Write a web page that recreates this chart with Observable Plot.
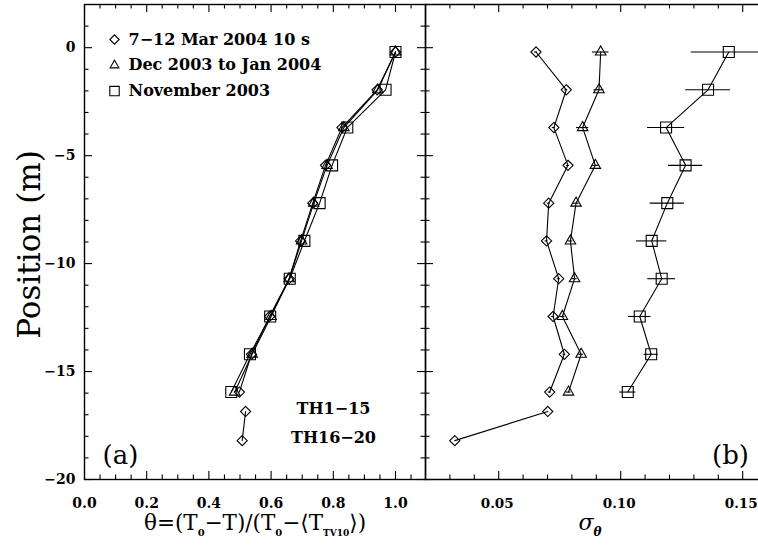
<!DOCTYPE html>
<html><head><meta charset="utf-8">
<script src="https://cdn.jsdelivr.net/npm/d3@7"></script>
<script src="https://cdn.jsdelivr.net/npm/@observablehq/plot@0.6"></script>
<style>
body{margin:0;background:#fff;}
#wrap{position:relative;width:758px;height:546px;overflow:hidden;background:#fff;}
#wrap svg{position:absolute;top:0;}
.title{position:absolute;font-family:"DejaVu Serif",serif;color:#000;white-space:nowrap;transform:translate(-50%,-50%);line-height:1;}
.title sub{font-weight:bold;}
</style></head><body><div id="wrap"></div>
<script>
// ---- data ----
const depth = [-0.2, -1.95, -3.7, -5.45, -7.2, -8.95, -10.7, -12.45, -14.2, -15.95];
const depthLower = [-16.85, -18.2];
const thetaMar = [1.0, 0.941, 0.828, 0.775, 0.734, 0.695, 0.658, 0.595, 0.537, 0.498];
const thetaMarLower = [0.518, 0.507];
const thetaDecJan = [1.0, 0.943, 0.834, 0.78, 0.737, 0.698, 0.658, 0.6, 0.539, 0.483];
const thetaNov = [1.0, 0.968, 0.845, 0.796, 0.756, 0.707, 0.66, 0.597, 0.532, 0.472];
const sigmaMar = [0.0653, 0.0777, 0.0726, 0.0784, 0.0705, 0.0696, 0.0746, 0.0723, 0.0769, 0.0709];
const sigmaMarLower = [0.0701, 0.0320];
const errMar = [0.0006, 0.0006, 0.0006, 0.0006, 0.0006, 0.0006, 0.0006, 0.0006, 0.0006, 0.0006];
const sigmaDecJan = [0.0918, 0.0911, 0.0844, 0.0896, 0.0817, 0.0794, 0.0811, 0.0761, 0.0838, 0.0786];
const errDecJan = [0.0034, 0.0020, 0.0025, 0.0015, 0.0012, 0.0010, 0.0010, 0.0010, 0.0010, 0.0010];
const sigmaNov = [0.1443, 0.1358, 0.1186, 0.1266, 0.1191, 0.1127, 0.1168, 0.1078, 0.1125, 0.1029];
const errNov = [0.0154, 0.0092, 0.0076, 0.0070, 0.0070, 0.0062, 0.0057, 0.0046, 0.0029, 0.0033];

const legendLabels = ["7\u221212 Mar 2004 10 s", "Dec 2003 to Jan 2004", "November 2003"];
const legendSymbols = ["diamond2", "triangle2", "square2"];
const groupLabels = ["TH1\u221215", "TH16\u221220"];
const panelLabels = ["(a)", "(b)"];

const yMajor = [0, -5, -10, -15, -20];
const yMinor = [1, -1, -2, -3, -4, -6, -7, -8, -9, -11, -12, -13, -14, -16, -17, -18, -19];
const leftXMajor = [0.0, 0.2, 0.4, 0.6, 0.8, 1.0];
const leftXMinor = [0.05, 0.1, 0.15, 0.25, 0.3, 0.35, 0.45, 0.5, 0.55, 0.65, 0.7, 0.75, 0.85, 0.9, 0.95, 1.05];
const rightXMajor = [0.05, 0.10, 0.15];
const rightXMinor = [0.03, 0.04, 0.06, 0.07, 0.08, 0.09, 0.11, 0.12, 0.13, 0.14];

// ---- tables ----
const rowsOf = (ys, xs, es) => ys.map((d, i) => ({y: d, x: xs[i], e: es ? es[i] : 0}));
const L = {
  mar: rowsOf(depth, thetaMar), marLow: rowsOf(depthLower, thetaMarLower),
  dec: rowsOf(depth, thetaDecJan), nov: rowsOf(depth, thetaNov)
};
const R = {
  mar: rowsOf(depth, sigmaMar, errMar), marLow: rowsOf(depthLower, sigmaMarLower),
  dec: rowsOf(depth, sigmaDecJan, errDecJan), nov: rowsOf(depth, sigmaNov, errNov)
};

// ---- geometry ----
const PH = 546, mTop = 4, mBottom = 479, frameL = 84, divider = 425, PW = 758;
const innerH = mBottom - mTop;
const leftW = divider + 1, leftInnerW = divider - frameL;
const rightW = PW - divider, rightInnerW = rightW;
const MAJ = 8, MIN = 4.5;
const svgStyle = {background: "none", overflow: "visible", fontFamily: "DejaVu Serif", fontSize: "14px", color: "black"};
const ink = {stroke: "black", strokeWidth: 1.1};

function seriesMarks(T, withErr) {
  const m = [];
  const opts = {x: "x", y: "y", ...ink};
  for (const k of ["mar", "marLow", "dec", "nov"]) {
    m.push(Plot.line(T[k], {...opts}));
  }
  if (withErr) {
    for (const k of ["mar", "dec", "nov"]) {
      m.push(Plot.ruleY(T[k], {y: "y", x1: d => d.x - d.e, x2: d => d.x + d.e, ...ink, clip: true}));
    }
  }
  m.push(Plot.dot(T.mar, {...opts, symbol: "diamond2", r: 4.6, fill: "none"}));
  m.push(Plot.dot(T.marLow, {...opts, symbol: "diamond2", r: 4.6, fill: "none"}));
  m.push(Plot.dot(T.dec, {...opts, symbol: "triangle2", r: 5.0, fill: "none"}));
  m.push(Plot.dot(T.nov, {...opts, symbol: "square2", r: 7.0, fill: "none"}));
  return m;
}

function tickMarks(xMaj, xMin, iw, leftTicks, rightTicks) {
  const m = [];
  for (const [vals, len] of [[xMaj, MAJ], [xMin, MIN]]) {
    m.push(Plot.tickX(vals, {x: d => d, insetTop: innerH - len, ...ink}));
    m.push(Plot.tickX(vals, {x: d => d, insetBottom: innerH - len, ...ink}));
  }
  for (const [vals, len] of [[yMajor, MAJ], [yMinor, MIN]]) {
    if (leftTicks) m.push(Plot.tickY(vals, {y: d => d, insetRight: iw - len, ...ink}));
    if (rightTicks) m.push(Plot.tickY(vals, {y: d => d, insetLeft: iw - len, ...ink}));
  }
  return m;
}

const wrap = document.getElementById("wrap");

// ---- left panel ----
const left = Plot.plot({
  width: leftW, height: PH,
  marginLeft: frameL, marginRight: leftW - divider, marginTop: mTop, marginBottom: PH - mBottom,
  style: svgStyle,
  x: {domain: [0, leftInnerW / 311], label: null},
  y: {domain: [-20, 2], label: null},
  marks: [
    Plot.axisX(leftXMajor, {anchor: "bottom", tickSize: 0, tickPadding: 19, tickFormat: d => d.toFixed(1), fontWeight: "bold", fontSize: 14, label: null}),
    Plot.axisY(yMajor, {anchor: "left", tickSize: 0, tickPadding: 9, fontWeight: "bold", fontSize: 14, label: null}),
    ...tickMarks(leftXMajor, leftXMinor, leftInnerW, true, true),
    ...seriesMarks(L, false),
    ...legendLabels.map((t, i) => Plot.dot([t], {frameAnchor: "top-left", dx: 30, dy: 35 + i * 25.8, symbol: legendSymbols[i], r: legendSymbols[i] === "square2" ? 6 : 4.2, stroke: "black", strokeWidth: 1.1, fill: "none"})),
    ...legendLabels.map((t, i) => Plot.text([t], {frameAnchor: "top-left", dx: 44, dy: 35 + i * 25.8, text: d => d, textAnchor: "start", lineAnchor: "middle", fontSize: 16, fontWeight: "bold", fill: "black", letterSpacing: "0.6px"})),
    ...groupLabels.map((t, i) => Plot.text([t], {frameAnchor: "bottom-left", dx: 249, dy: -71 + i * 29, text: d => d, textAnchor: "middle", lineAnchor: "middle", fontSize: 16, fontWeight: "bold", fill: "black", letterSpacing: "0.5px"})),
    Plot.text([panelLabels[0]], {frameAnchor: "bottom-left", dx: 36, dy: -24, text: d => d, textAnchor: "middle", lineAnchor: "middle", fontSize: 26, fill: "black"}),
    Plot.text(["Position (m)"], {frameAnchor: "left", dx: -54, dy: 2.5, rotate: -90, text: d => d, textAnchor: "middle", lineAnchor: "middle", fontSize: 31, fill: "black"}),
    Plot.frame({stroke: "black", strokeWidth: 1.4})
  ]
});
left.style.left = "0px";
wrap.appendChild(left);

// ---- right panel ----
const right = Plot.plot({
  width: rightW, height: PH,
  marginLeft: 0, marginRight: 0, marginTop: mTop, marginBottom: PH - mBottom,
  style: svgStyle,
  x: {domain: [0.02, 0.02 + rightInnerW / 2440], label: null},
  y: {domain: [-20, 2], label: null, axis: null},
  marks: [
    Plot.axisX(rightXMajor, {anchor: "bottom", tickSize: 0, tickPadding: 19, dx: -1.5, tickFormat: d => d.toFixed(2), fontWeight: "bold", fontSize: 13.5, label: null}),
    ...tickMarks(rightXMajor, rightXMinor, rightInnerW, true, false),
    ...seriesMarks(R, true),
    Plot.text([panelLabels[1]], {frameAnchor: "bottom-left", dx: 305, dy: -24, text: d => d, textAnchor: "middle", lineAnchor: "middle", fontSize: 26, fill: "black"}),
    Plot.ruleY([2, -20], {...ink, strokeWidth: 1.4}),
    Plot.ruleX([0.02], {...ink, strokeWidth: 1.4})
  ]
});
right.style.left = divider + "px";
wrap.appendChild(right);

// ---- axis titles ----
const t1 = document.createElement("div");
t1.className = "title";
t1.style.left = "255px"; t1.style.top = "525px"; t1.style.fontSize = "21.5px";
t1.innerHTML = "\u03b8=(T<sub style='font-size:10px'>0</sub>\u2212T)/(T<sub style='font-size:10px'>0</sub>\u2212\u27e8T<sub style='font-size:9px'>TV10</sub>\u27e9)";
wrap.appendChild(t1);
const t2 = document.createElement("div");
t2.className = "title";
t2.style.left = "590px"; t2.style.top = "525px"; t2.style.fontSize = "22px";
t2.innerHTML = "<i>\u03c3</i><sub style='font-size:12px'><i>\u03b8</i></sub>";
wrap.appendChild(t2);
</script></body></html>
